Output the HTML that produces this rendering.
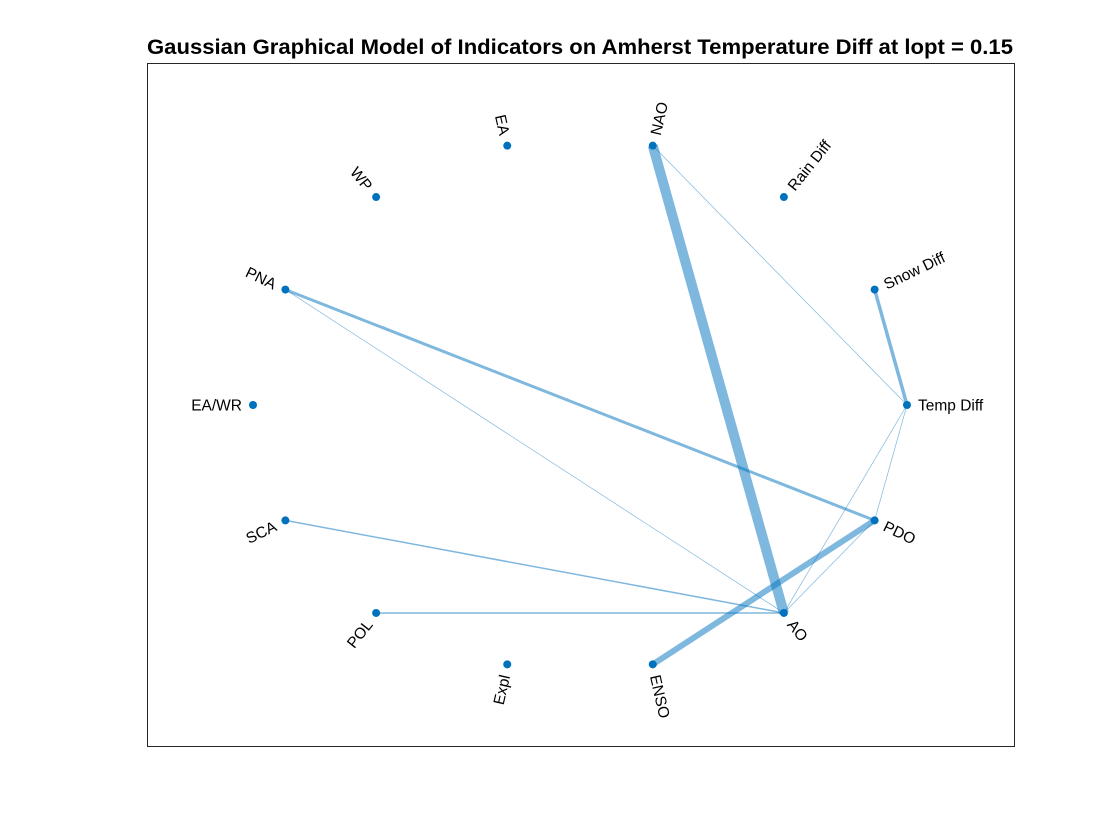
<!DOCTYPE html>
<html><head><meta charset="utf-8"><style>
body{margin:0;background:#fff}
svg{display:block;font-family:"Liberation Sans",sans-serif}
</style></head><body>
<svg id="chart" width="1120" height="840">
<rect x="0" y="0" width="1120" height="840" fill="#fff"/>
<text x="580" y="54" text-anchor="middle" font-size="21" font-weight="bold" fill="#000" textLength="866" lengthAdjust="spacingAndGlyphs">Gaussian Graphical Model of Indicators on Amherst Temperature Diff at lopt = 0.15</text>
<rect x="147.5" y="63.5" width="867" height="683" fill="none" stroke="#262626" stroke-width="1"/>
<g id="edges"></g><g id="nodes"></g><g id="labels"></g>
</svg>
<script>
const nodeNames = ["Temp Diff","Snow Diff","Rain Diff","NAO","EA","WP","PNA","EA/WR","SCA","POL","Expl","ENSO","AO","PDO"];
const edgeSource = ["NAO","ENSO","PNA","Snow Diff","SCA","POL","NAO","PNA","Temp Diff","Temp Diff","PDO"];
const edgeTarget = ["AO","PDO","PDO","Temp Diff","AO","AO","Temp Diff","AO","AO","PDO","AO"];
const edgeWeight = [10,6,3,3.5,1.5,1.5,0.7,0.7,0.7,0.7,0.7];

const cx=580, cy=405, rx=327, ry=266;
const NS="http://www.w3.org/2000/svg";
function angleOf(i){return i*2*Math.PI/nodeNames.length;}
function px(i){return cx+rx*Math.cos(angleOf(i));}
function py(i){return cy-ry*Math.sin(angleOf(i));}
const eg=document.getElementById('edges'), ng=document.getElementById('nodes'), lg=document.getElementById('labels');
edgeSource.forEach((s,k)=>{
  const a=nodeNames.indexOf(s), b=nodeNames.indexOf(edgeTarget[k]);
  const l=document.createElementNS(NS,'line');
  l.setAttribute('x1',px(a));l.setAttribute('y1',py(a));
  l.setAttribute('x2',px(b));l.setAttribute('y2',py(b));
  l.setAttribute('stroke','#0072BD');l.setAttribute('stroke-opacity','0.5');
  l.setAttribute('stroke-width',edgeWeight[k]);
  
  
  eg.appendChild(l);
});
nodeNames.forEach((n,i)=>{
  const x=px(i), y=py(i), th=angleOf(i)*180/Math.PI;
  const c=document.createElementNS(NS,'circle');
  c.setAttribute('cx',x);c.setAttribute('cy',y);c.setAttribute('r',4);c.setAttribute('fill','#0072BD');
  
  
  ng.appendChild(c);
  const t=document.createElementNS(NS,'text');
  const right = (th<90||th>270);
  const rot = right ? -th : 180-th;
  t.setAttribute('transform','translate('+x+','+y+') rotate('+rot+')');
  t.setAttribute('x', right?11:-11);
  t.setAttribute('y', 5.5);
  t.setAttribute('text-anchor', right?'start':'end');
  t.setAttribute('font-size','15.5');
  t.setAttribute('fill','#000');
  t.textContent=n;
  
  
  lg.appendChild(t);
});
</script>
</body></html>
